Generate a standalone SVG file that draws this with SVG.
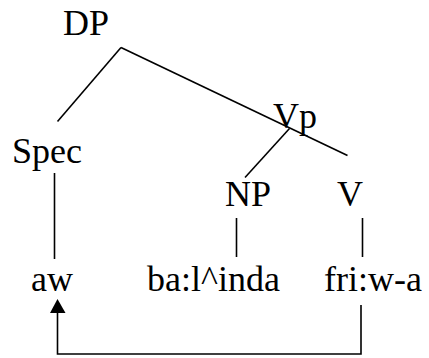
<svg xmlns="http://www.w3.org/2000/svg" width="429" height="358" viewBox="0 0 429 358">
<style>
.l{stroke:#000;stroke-width:1.6;fill:none}
</style>
<rect width="429" height="358" fill="#fff"/>
<g id="connectors">
<line class="l" x1="121" y1="47.5" x2="57.5" y2="121.5"/>
<line class="l" x1="121" y1="47.5" x2="347.5" y2="155.5"/>
<line class="l" x1="289.5" y1="128.5" x2="245" y2="177.5"/>
<line class="l" x1="54.5" y1="173" x2="54.5" y2="259"/>
<line class="l" x1="236.5" y1="218" x2="236.5" y2="257"/>
<line class="l" x1="362.5" y1="218" x2="362.5" y2="257"/>
<path class="l" d="M361,305 V354 H57.5 V313"/>
<path d="M50,313 L57.5,299 L65.5,313 Z" fill="#000"/>
</g>
<g font-family="Liberation Serif, Times New Roman, serif" font-size="36" fill="#000">
<g id="DP"><text x="63" y="35">DP</text></g>
<g id="Vp"><text x="273" y="128">Vp</text></g>
<g id="Spec"><text x="12" y="163">Spec</text></g>
<g id="NP"><text x="225" y="206">NP</text></g>
<g id="V"><text x="337" y="206">V</text></g>
<g id="aw"><text x="31" y="290.5">aw</text></g>
<g id="balinda"><text x="147" y="290.5">ba:l^inda</text></g>
<g id="friwa"><text x="324" y="290.5">fri:w-a</text></g>
</g>
</svg>
